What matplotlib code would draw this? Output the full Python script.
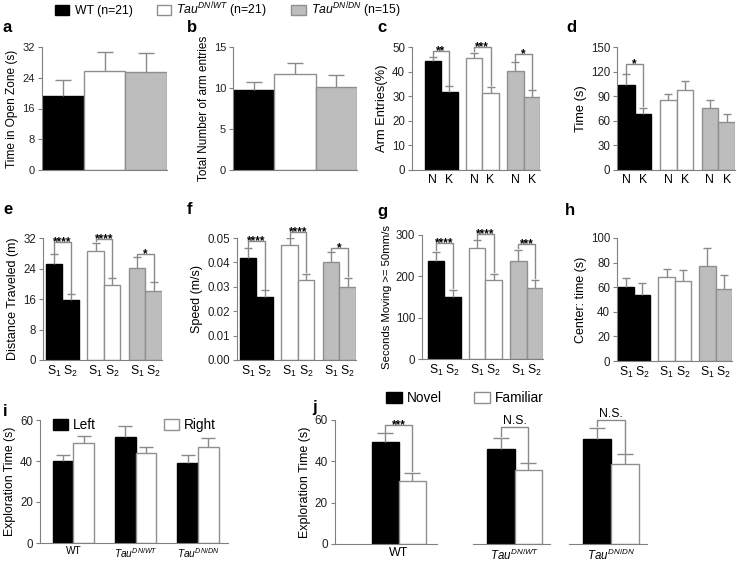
import matplotlib
matplotlib.use('Agg')
import matplotlib.pyplot as plt
import numpy as np
from matplotlib.patches import Patch
from matplotlib.ticker import FormatStrFormatter

plt.rcParams['font.family'] = ['Liberation Sans', 'DejaVu Sans']
plt.rcParams['mathtext.fontset'] = 'custom'
plt.rcParams['mathtext.rm'] = 'Liberation Sans'
plt.rcParams['mathtext.it'] = 'Liberation Sans:italic'
plt.rcParams['mathtext.bf'] = 'Liberation Sans:bold'

# ---------------- data ----------------
group_names = ['WT', r'$\mathit{Tau}^{\mathit{DN/WT}}$', r'$\mathit{Tau}^{\mathit{DN/DN}}$']
group_n = [21, 21, 15]

a_vals = [19.2, 25.8, 25.4]
a_err = [4.3, 4.9, 5.1]
b_vals = [9.8, 11.7, 10.1]
b_err = [0.9, 1.4, 1.45]

c_first = [44.2, 45.7, 40.1]
c_first_err = [1.7, 2.0, 3.8]
c_second = [31.8, 31.5, 29.7]
c_second_err = [2.2, 2.3, 2.7]
c_sig = ['**', '***', '*']
c_sig_y = [48.2, 50.0, 47.0]

d_first = [104, 85, 75.8]
d_first_err = [12.7, 8.0, 9.2]
d_second = [67.7, 97.3, 58.4]
d_second_err = [8.3, 11.7, 9.3]
d_sig = ['*', None, None]
d_sig_y = [129.7, 0, 0]

e_first = [25.3, 28.5, 24.2]
e_first_err = [2.4, 2.3, 2.7]
e_second = [15.7, 19.7, 18.1]
e_second_err = [1.6, 1.7, 2.3]
e_sig = ['****', '****', '*']
e_sig_y = [30.9, 31.8, 27.9]

f_first = [0.0418, 0.0473, 0.0401]
f_first_err = [0.0040, 0.0027, 0.0041]
f_second = [0.0260, 0.0326, 0.0300]
f_second_err = [0.0025, 0.0027, 0.0038]
f_sig = ['****', '****', '*']
f_sig_y = [0.0486, 0.0523, 0.0459]

g_first = [238, 269.5, 238]
g_first_err = [21, 17.5, 26]
g_second = [151, 190, 171]
g_second_err = [16, 16, 20.5]
g_sig = ['****', '****', '***']
g_sig_y = [280, 301.7, 277.5]

h_first = [60.2, 68.3, 77.0]
h_first_err = [7.3, 6.7, 15.0]
h_second = [53.7, 65.0, 58.3]
h_second_err = [10.0, 8.7, 11.3]
h_sig = [None, None, None]
h_sig_y = [0, 0, 0]

i_left = [40.2, 51.9, 39.2]
i_left_err = [2.6, 5.3, 3.8]
i_right = [48.6, 44.1, 46.7]
i_right_err = [3.8, 2.6, 4.7]

j_novel = [49.3, 46.1, 50.6]
j_novel_err = [4.3, 5.3, 5.6]
j_fam = [30.6, 35.7, 38.9]
j_fam_err = [3.8, 3.5, 4.5]
j_sig = ['***', 'N.S.', 'N.S.']
j_sig_y = [57.8, 56.8, 60.0]

# ---------------- style ----------------
BLACK = '#000000'
WHITE = '#ffffff'
GREY = '#bdbdbd'
EDGE = '#8f8f8f'
ERRC = '#8a8a8a'
SPINE = '#808080'
group_fc = [BLACK, WHITE, GREY]
group_ec = [BLACK, EDGE, EDGE]

W, H = 737, 562
fig = plt.figure(figsize=(W / 100, H / 100), dpi=100)


def box(l, r, t, b):
    return [l / W, 1 - b / H, (r - l) / W, (b - t) / H]


def style_ax(ax, ymax, yticks, ylabel, left=True, ylsize=8.8, ticksize=8):
    for s in ['top', 'right']:
        ax.spines[s].set_visible(False)
    ax.spines['bottom'].set_color(SPINE)
    ax.spines['left'].set_color(SPINE)
    ax.set_ylim(0, ymax)
    if left:
        ax.set_yticks(yticks)
        ax.tick_params(axis='y', length=3, width=0.8, color=SPINE, labelsize=ticksize,
                       labelcolor='#222222', pad=2)
        ax.set_ylabel(ylabel, fontsize=ylsize, labelpad=3)
    else:
        ax.spines['left'].set_visible(False)
        ax.set_yticks([])
    ax.tick_params(axis='x', length=0, labelsize=8.3, pad=3)


def bars(ax, x, vals, errs, fc, ec, capsize):
    ax.bar(x, vals, width=1.0, color=fc, edgecolor=ec, linewidth=1.0, zorder=2)
    eb = ax.errorbar(x, vals, yerr=[np.zeros(len(vals)), errs], fmt='none',
                     ecolor=ERRC, elinewidth=1.0, capsize=capsize, capthick=1.0, zorder=3)
    eb[1][0].set_visible(False)


def bracket(ax, x1, x2, y, y1, y2, text, stars=True):
    ax.plot([x1, x1, x2, x2], [y1, y, y, y2], color=ERRC, lw=1.0, zorder=4, clip_on=False)
    if stars:
        ax.annotate(text, ((x1 + x2) / 2, y), xytext=(0, -2.3), textcoords='offset points',
                    ha='center', va='baseline', fontsize=8.5, fontweight='bold',
                    zorder=5, annotation_clip=False)
    else:
        ax.annotate(text, ((x1 + x2) / 2, y), xytext=(0, 2.0), textcoords='offset points',
                    ha='center', va='baseline', fontsize=8.8,
                    zorder=5, annotation_clip=False)


# ---- panel a, b ----
for (l, r), vals, errs, ymax, yt, yl, yls in [
        ((42, 167), a_vals, a_err, 32, [0, 8, 16, 24, 32], 'Time in Open Zone (s)', 8.6),
        ((233, 357), b_vals, b_err, 15, [0, 5, 10, 15], 'Total Number of arm entries', 8.5)]:
    ax = fig.add_axes(box(l, r, 47, 170))
    x = np.arange(3)
    for k in range(3):
        bars(ax, [x[k]], [vals[k]], [errs[k]], group_fc[k], group_ec[k], 5.5)
    ax.set_xlim(-0.5, 2.5)
    ax.set_xticks([])
    style_ax(ax, ymax, yt, yl, ylsize=yls)

# ---- paired panels c-h ----
paired = [
    ((412, 540, 47, 170), -1.26, c_first, c_first_err, c_second, c_second_err, c_sig, c_sig_y,
     50, np.arange(0, 51, 10), 'Arm Entries(%)', ['N', 'K'], None, 9.3),
    ((617, 735, 47, 170), -0.56, d_first, d_first_err, d_second, d_second_err, d_sig, d_sig_y,
     150, np.arange(0, 151, 30), 'Time (s)', ['N', 'K'], None, 9.3),
    ((43, 162, 238, 360), -0.66, e_first, e_first_err, e_second, e_second_err, e_sig, e_sig_y,
     32, [0, 8, 16, 24, 32], 'Distance Traveled (m)', ['S$_1$', 'S$_2$'], None, 9.0),
    ((237, 356, 238, 360), -0.66, f_first, f_first_err, f_second, f_second_err, f_sig, f_sig_y,
     0.05, np.linspace(0, 0.05, 6), 'Speed (m/s)', ['S$_1$', 'S$_2$'], '%.2f', 9.0),
    ((422, 543, 235, 359), -0.86, g_first, g_first_err, g_second, g_second_err, g_sig, g_sig_y,
     300, [0, 100, 200, 300], 'Seconds Moving >= 50mm/s', ['S$_1$', 'S$_2$'], None, 8.2),
    ((617, 732, 238, 361), -0.54, h_first, h_first_err, h_second, h_second_err, h_sig, h_sig_y,
     100, np.arange(0, 101, 20), 'Center: time (s)', ['S$_1$', 'S$_2$'], None, 9.0),
]
for (l, r, t, b), xl, v1, e1, v2, e2, sig, sigy, ymax, yt, yl, labs, fmt, yls in paired:
    ax = fig.add_axes(box(l, r, t, b))
    starts = np.arange(3) * 2.5
    for k in range(3):
        bars(ax, [starts[k]], [v1[k]], [e1[k]], group_fc[k], group_ec[k], 3.2)
        bars(ax, [starts[k] + 1], [v2[k]], [e2[k]], group_fc[k], group_ec[k], 3.2)
        if sig[k]:
            gap = ymax * 0.012
            bracket(ax, starts[k], starts[k] + 1, sigy[k], v1[k] + e1[k] + gap,
                    v2[k] + e2[k] + gap, sig[k])
    ax.set_xlim(xl, 6.5)
    ax.set_xticks(np.concatenate([starts, starts + 1]))
    ax.set_xticklabels([labs[0]] * 3 + [labs[1]] * 3)
    style_ax(ax, ymax, yt, yl, ylsize=yls, ticksize=8.3)
    if fmt:
        ax.yaxis.set_major_formatter(FormatStrFormatter(fmt))
    ax.tick_params(axis='x', labelsize=8.8)

# ---- panel i ----
ax = fig.add_axes(box(40, 228, 420, 543))
starts = np.arange(3) * 3.0
for k in range(3):
    bars(ax, [starts[k]], [i_left[k]], [i_left_err[k]], BLACK, BLACK, 4.7)
    bars(ax, [starts[k] + 1], [i_right[k]], [i_right_err[k]], WHITE, EDGE, 4.7)
ax.set_xlim(-1.11, 7.95)
ax.set_xticks(starts + 0.5)
ax.set_xticklabels(group_names)
style_ax(ax, 60, [0, 20, 40, 60], 'Exploration Time (s)', ylsize=8.8, ticksize=8.3)
ax.tick_params(axis='x', labelsize=7.3, pad=2.5)

# ---- panel j ----
j_boxes = [(335, 437, -1.87, 1.91), (473, 550, -1.01, 1.79), (569, 647, -1.01, 1.79)]
for k, (l, r, x0, x1) in enumerate(j_boxes):
    ax = fig.add_axes(box(l, r, 420, 544))
    bars(ax, [0], [j_novel[k]], [j_novel_err[k]], BLACK, BLACK, 5.5)
    bars(ax, [1], [j_fam[k]], [j_fam_err[k]], WHITE, EDGE, 5.5)
    bracket(ax, 0, 1, j_sig_y[k], j_novel[k] + j_novel_err[k] + 0.7,
            j_fam[k] + j_fam_err[k] + 0.7, j_sig[k], stars=j_sig[k].startswith('*'))
    ax.set_xlim(x0, x1)
    ax.set_xticks([0.5])
    ax.set_xticklabels([group_names[k]])
    style_ax(ax, 60, [0, 20, 40, 60], 'Exploration Time (s)', left=(k == 0),
             ylsize=9.0, ticksize=8.5)
    ax.tick_params(axis='x', labelsize=9 if k == 0 else 8.3, pad=2.5)

# ---- legends ----
top_handles = [Patch(facecolor=group_fc[k], edgecolor=group_ec[k], linewidth=1.0) for k in range(3)]
top_labels = [f'{group_names[k]} (n={group_n[k]})' for k in range(3)]
fig.legend(top_handles, top_labels, loc='upper left', bbox_to_anchor=(55 / W, 1 - 0.5 / H),
           ncol=3, frameon=False, fontsize=8.8, handlelength=1.15, handleheight=0.85,
           handletextpad=0.45, columnspacing=2.0, borderpad=0, borderaxespad=0)

fig.legend([Patch(facecolor=BLACK, edgecolor=BLACK), Patch(facecolor=WHITE, edgecolor=EDGE)],
           ['Left', 'Right'], loc='upper left', bbox_to_anchor=(53 / W, 1 - 418 / H),
           ncol=2, frameon=False, fontsize=9.8, handlelength=1.1, handleheight=0.85,
           handletextpad=0.35, columnspacing=5.0, borderpad=0, borderaxespad=0)

fig.legend([Patch(facecolor=BLACK, edgecolor=BLACK), Patch(facecolor=WHITE, edgecolor=EDGE)],
           ['Novel', 'Familiar'], loc='upper left', bbox_to_anchor=(386 / W, 1 - 391 / H),
           ncol=2, frameon=False, fontsize=9.8, handlelength=1.15, handleheight=0.85,
           handletextpad=0.35, columnspacing=2.4, borderpad=0, borderaxespad=0)

# ---- panel letters ----
letters = [('a', 3, 32), ('b', 187, 32), ('c', 377, 32), ('d', 566, 32),
           ('e', 3, 214), ('f', 187, 214), ('g', 377, 216), ('h', 565, 215),
           ('i', 3, 416), ('j', 312, 412)]
for t, x, y in letters:
    fig.text(x / W, 1 - y / H, t, fontsize=12, fontweight='bold', va='baseline', ha='left')

fig.savefig('out.png', dpi=100, facecolor='white')
